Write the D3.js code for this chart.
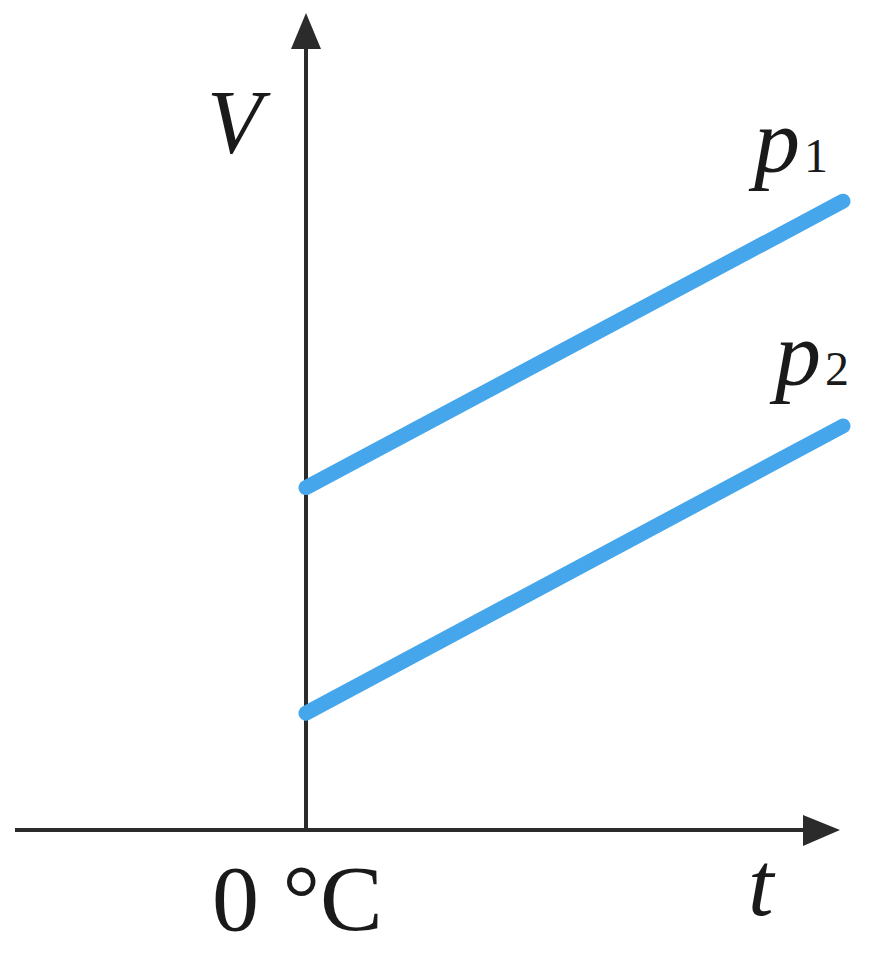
<!DOCTYPE html>
<html><head><meta charset="utf-8">
<script src="https://cdn.jsdelivr.net/npm/d3@7"></script>
<style>html,body{margin:0;padding:0;background:#fff;}svg{display:block;}</style>
</head><body>
<svg id="c" width="872" height="956"></svg>
<script>
// data
const tValues = [0, 100];
const series = ["p1", "p2"];
const p1Values = [42.8, 78.6];
const p2Values = [14.6, 50.5];
const axisLabels = ["V", "t", "0 °C"];

const svg = d3.select("#c");
const x = d3.scaleLinear().domain([0, 100]).range([306, 843]);
const y = d3.scaleLinear().domain([0, 100]).range([830, 30]);
const axisColor = "#2b2b2b";
const blue = "#45a6ec";

// axes
svg.append("line").attr("x1", 15).attr("x2", 808).attr("y1", y(0)).attr("y2", y(0))
  .attr("stroke", axisColor).attr("stroke-width", 4);
svg.append("line").attr("x1", x(0)).attr("x2", x(0)).attr("y1", y(0)).attr("y2", 45)
  .attr("stroke", axisColor).attr("stroke-width", 4);
// arrow heads
svg.append("path").attr("d", `M${x(0)},13 L${x(0)+15},49 L${x(0)-15},49 Z`).attr("fill", axisColor);
svg.append("path").attr("d", `M840,${y(0)} L803,${y(0)-15} L803,${y(0)+16} Z`).attr("fill", axisColor);

// lines
const line = d3.line().x((d,i)=>x(tValues[i])).y(d=>y(d));
[p1Values, p2Values].forEach(vals => {
  svg.append("path").datum(vals).attr("d", line).attr("fill", "none")
    .attr("stroke", blue).attr("stroke-width", 15).attr("stroke-linecap", "round");
});

const font = "'Liberation Serif','Times New Roman',serif";
// labels
svg.append("text").attr("x", 207).attr("y", 153).attr("font-family", font).attr("font-style","italic")
  .attr("font-size", 90).attr("fill", "#1a1a1a").text(axisLabels[0]);
svg.append("text").attr("x", 748).attr("y", 915).attr("font-family", font).attr("font-style","italic")
  .attr("font-size", 92).attr("fill", "#1a1a1a").text(axisLabels[1]);
svg.append("text").attr("x", 212).attr("y", 930).attr("font-family", font)
  .attr("font-size", 94).attr("fill", "#1a1a1a").attr("xml:space","preserve").text(axisLabels[2]);

function pLabel(px, py, sub) {
  const t = svg.append("text").attr("x", px).attr("y", py).attr("font-family", font).attr("fill", "#1a1a1a");
  t.append("tspan").attr("font-style","italic").attr("font-size", 92).text("p");
  t.append("tspan").attr("font-size", 48).attr("dx", 4).text(sub);
}
pLabel(754, 172, "1");
pLabel(775, 385, "2");
</script>
</body></html>
